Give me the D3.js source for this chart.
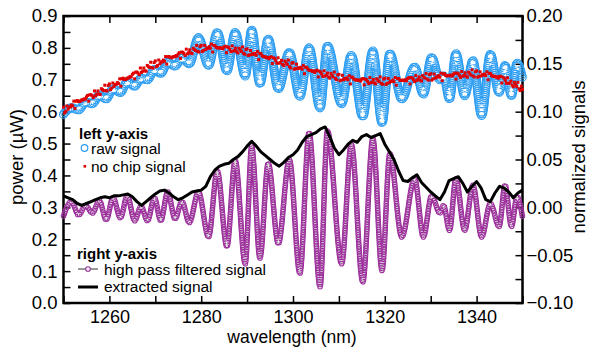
<!DOCTYPE html>
<html>
<head>
<meta charset="utf-8">
<script src="https://cdn.jsdelivr.net/npm/d3@7"></script>
<style>
  body { margin: 0; background: #fff; }
  svg text { font-family: "Liberation Sans", Arial, Helvetica, sans-serif; fill: #000; }
</style>
</head>
<body>
<svg id="chart" width="589" height="347"></svg>
<script>
// no chip signal (left axis, uW), sampled every 0.25 nm from 1250 nm
const noChip = [
  0.614,0.596,0.601,0.618,0.608,0.614,0.615,0.621,
  0.618,0.633,0.610,0.633,0.635,0.632,0.632,0.634,
  0.637,0.637,0.640,0.639,0.646,0.651,0.633,0.653,
  0.653,0.650,0.644,0.665,0.650,0.655,0.665,0.655,
  0.654,0.672,0.669,0.666,0.683,0.666,0.665,0.682,
  0.687,0.669,0.674,0.690,0.679,0.685,0.686,0.691,
  0.688,0.703,0.680,0.703,0.705,0.701,0.701,0.703,
  0.706,0.706,0.710,0.709,0.717,0.721,0.703,0.724,
  0.724,0.721,0.716,0.737,0.723,0.727,0.737,0.728,
  0.727,0.745,0.741,0.739,0.755,0.738,0.737,0.754,
  0.759,0.741,0.745,0.762,0.750,0.756,0.756,0.762,
  0.758,0.773,0.749,0.772,0.773,0.770,0.769,0.771,
  0.773,0.772,0.776,0.774,0.781,0.785,0.767,0.787,
  0.786,0.782,0.776,0.796,0.781,0.785,0.794,0.784,
  0.782,0.799,0.795,0.792,0.808,0.789,0.787,0.804,
  0.808,0.789,0.792,0.808,0.795,0.800,0.799,0.804,
  0.799,0.812,0.787,0.808,0.807,0.802,0.800,0.800,
  0.801,0.799,0.800,0.797,0.803,0.805,0.785,0.803,
  0.801,0.795,0.788,0.806,0.790,0.792,0.799,0.788,
  0.784,0.799,0.794,0.789,0.803,0.783,0.780,0.795,
  0.797,0.776,0.778,0.792,0.779,0.782,0.780,0.783,
  0.777,0.789,0.763,0.783,0.782,0.776,0.773,0.772,
  0.772,0.769,0.770,0.766,0.771,0.772,0.751,0.769,
  0.766,0.760,0.752,0.769,0.752,0.754,0.761,0.748,
  0.744,0.759,0.753,0.748,0.762,0.741,0.737,0.752,
  0.754,0.733,0.735,0.749,0.735,0.738,0.736,0.739,
  0.733,0.745,0.719,0.739,0.739,0.733,0.730,0.729,
  0.729,0.726,0.727,0.723,0.728,0.730,0.709,0.727,
  0.724,0.718,0.710,0.728,0.712,0.714,0.721,0.709,
  0.705,0.720,0.714,0.709,0.724,0.704,0.700,0.715,
  0.717,0.697,0.699,0.714,0.700,0.704,0.702,0.706,
  0.700,0.713,0.687,0.708,0.708,0.702,0.700,0.699,
  0.700,0.698,0.699,0.696,0.702,0.704,0.684,0.702,
  0.700,0.695,0.688,0.707,0.691,0.693,0.701,0.690,
  0.687,0.703,0.698,0.694,0.709,0.689,0.686,0.702,
  0.705,0.685,0.689,0.704,0.691,0.695,0.695,0.699,
  0.694,0.707,0.683,0.704,0.704,0.699,0.698,0.698,
  0.699,0.697,0.700,0.697,0.704,0.707,0.687,0.707,
  0.705,0.700,0.694,0.713,0.698,0.701,0.709,0.699,
  0.696,0.713,0.708,0.705,0.720,0.702,0.699,0.716,
  0.719,0.699,0.703,0.718,0.705,0.709,0.709,0.713,
  0.708,0.721,0.697,0.718,0.719,0.714,0.712,0.713,
  0.714,0.712,0.715,0.712,0.718,0.721,0.702,0.721,
  0.719,0.714,0.707,0.726,0.711,0.714,0.722,0.711,
  0.708,0.724,0.719,0.715,0.731,0.712,0.709,0.725,
  0.728,0.708,0.711,0.725,0.712,0.716,0.715,0.718,
  0.713,0.725,0.700,0.720,0.720,0.714,0.711,0.711,
  0.711,0.708,0.709,0.705,0.710,0.711,0.690,0.708,
  0.705,0.698,0.689,0.706,0.689,0.690,0.696,0.683,
  0.678,0.692,0.685,0.679,0.692,0.671,0.666,0.680,
  0.670
];

// raw signal (left axis, uW): turning points
const rawWl = [
  1250.0,1251.7,1253.3,1254.8,1256.3,1257.8,1259.3,1260.8,1262.4,1263.9,
  1265.5,1266.9,1268.3,1269.8,1271.2,1272.7,1274.3,1275.8,1277.4,1279.4,
  1281.6,1283.5,1285.6,1287.4,1289.6,1291.0,1292.8,1294.6,1296.8,1299.2,
  1301.5,1303.5,1305.9,1307.5,1310.6,1312.7,1315.2,1317.4,1319.4,1321.1,
  1323.7,1326.5,1328.4,1330.2,1332.0,1332.8,1334.1,1335.5,1337.4,1339.2,
  1341.1,1343.0,1344.9,1346.2,1347.6,1348.8,1350.0
];
const rawVal = [
  0.592,0.612,0.606,0.630,0.625,0.652,0.640,0.672,0.660,0.694,
  0.680,0.705,0.700,0.732,0.720,0.755,0.743,0.768,0.750,0.832,
  0.745,0.848,0.728,0.848,0.712,0.856,0.688,0.828,0.672,0.786,
  0.648,0.800,0.612,0.806,0.625,0.776,0.585,0.790,0.565,0.782,
  0.640,0.740,0.655,0.770,0.700,0.712,0.640,0.782,0.650,0.760,
  0.588,0.780,0.660,0.745,0.650,0.752,0.705
];

// high pass filtered signal (right axis): turning points
const hpWl = [
  1250.0,1251.7,1253.3,1254.8,1256.3,1257.8,1259.3,1260.8,1262.4,1263.9,
  1265.5,1266.9,1268.3,1269.8,1271.2,1272.7,1274.3,1275.8,1277.4,1279.4,
  1281.6,1283.5,1285.6,1287.4,1289.6,1291.0,1292.8,1294.6,1296.8,1299.2,
  1301.5,1303.5,1305.9,1307.5,1310.6,1312.7,1315.2,1317.4,1319.4,1321.1,
  1323.7,1326.5,1328.4,1330.2,1332.0,1332.8,1334.1,1335.5,1337.4,1339.2,
  1341.1,1343.0,1344.9,1346.2,1347.6,1348.8,1350.0
];
const hpVal = [
  -0.009,0.006,-0.008,0.002,-0.006,0.007,-0.013,0.010,-0.011,0.012,
  -0.014,0.001,-0.014,0.010,-0.014,0.016,-0.012,0.006,-0.016,0.016,
  -0.031,0.038,-0.041,0.049,-0.059,0.064,-0.053,0.046,-0.038,0.050,
  -0.069,0.078,-0.083,0.080,-0.059,0.066,-0.078,0.072,-0.066,0.056,
  -0.031,0.030,-0.031,0.012,-0.006,0.002,-0.024,0.030,-0.024,0.023,
  -0.031,0.004,-0.020,0.023,-0.020,0.011,-0.010
];

// extracted signal (right axis), every 1 nm from 1250 nm
const extracted = [
  0.012,0.010,0.008,0.004,0.002,0.004,0.006,0.008,0.010,0.011,
  0.010,0.012,0.012,0.013,0.014,0.011,0.006,0.002,0.006,0.010,
  0.014,0.017,0.018,0.015,0.011,0.008,0.010,0.013,0.016,0.017,
  0.018,0.022,0.032,0.039,0.043,0.045,0.046,0.050,0.053,0.058,
  0.064,0.069,0.064,0.058,0.054,0.050,0.046,0.043,0.047,0.052,
  0.055,0.060,0.068,0.074,0.076,0.078,0.082,0.084,0.074,0.062,
  0.055,0.060,0.066,0.070,0.068,0.074,0.076,0.073,0.075,0.077,
  0.066,0.058,0.050,0.038,0.028,0.027,0.031,0.034,0.026,0.021,
  0.016,0.012,0.008,0.016,0.028,0.030,0.032,0.025,0.016,0.022,
  0.027,0.020,0.008,0.006,0.015,0.022,0.020,0.016,0.010,0.015,
  0.018
];

const xMajor = [1260, 1280, 1300, 1320, 1340];
const xMinor = [1250, 1270, 1290, 1310, 1330, 1350];
const leftMajor = [0, 0.1, 0.2, 0.3, 0.4, 0.5, 0.6, 0.7, 0.8, 0.9];
const leftMinor = [0.05, 0.15, 0.25, 0.35, 0.45, 0.55, 0.65, 0.75, 0.85];
const rightMajor = [-0.1, -0.05, 0, 0.05, 0.1, 0.15, 0.2];
const rightMinor = [-0.075, -0.025, 0.025, 0.075, 0.125, 0.175];

const blue = "#2e9ef2", red = "#e00000", purple = "#9c2f9c";

const svg = d3.select("#chart");
const defs = svg.append("defs");
const x = d3.scaleLinear().domain([1250, 1350]).range([63.5, 522.5]);
const yL = d3.scaleLinear().domain([0, 0.9]).range([303, 16]);
const yR = d3.scaleLinear().domain([-0.1, 0.2]).range([303, 16]);

// axes
const axes = svg.append("g");
function styleAxis(g) {
  g.select(".domain").remove();
  g.selectAll(".tick line").attr("stroke", "#000").attr("stroke-width", 1.5);
  g.selectAll(".tick text").attr("font-size", 18.5);
}
axes.append("g").attr("transform", "translate(0,303)")
  .call(d3.axisBottom(x).tickValues(xMajor.concat(xMinor)).tickSize(-7).tickPadding(7.5)
    .tickFormat(d => xMajor.includes(d) ? d : ""))
  .call(styleAxis)
  .call(g => g.selectAll(".tick text").attr("font-size", 18));
axes.append("g").attr("transform", "translate(0,16)")
  .call(d3.axisTop(x).tickValues(xMajor.concat(xMinor)).tickSize(-7).tickFormat(""))
  .call(styleAxis);
axes.append("g").attr("transform", "translate(63.5,0)")
  .call(d3.axisLeft(yL).tickValues(leftMajor.concat(leftMinor)).tickSize(-7).tickPadding(6)
    .tickFormat(d => leftMajor.includes(d) ? d3.format(".1f")(d) : ""))
  .call(styleAxis);
axes.append("g").attr("transform", "translate(522.5,0)")
  .call(d3.axisRight(yR).tickValues(rightMajor.concat(rightMinor)).tickSize(-7).tickPadding(4)
    .tickFormat(d => rightMajor.includes(d) ? d3.format(".2f")(d) : ""))
  .call(styleAxis);
axes.append("rect")
  .attr("x", 63.5).attr("y", 16).attr("width", 459).attr("height", 287)
  .attr("fill", "none").attr("stroke", "#000").attr("stroke-width", 2.5);

// axis titles
svg.append("text").attr("transform", "translate(23,157) rotate(-90)")
  .attr("text-anchor", "middle").attr("font-size", 18.5).text("power (µW)");
svg.append("text").attr("transform", "translate(585,157) rotate(-90)")
  .attr("text-anchor", "middle").attr("font-size", 18.5).text("normalized signals");
svg.append("text").attr("x", 292).attr("y", 343)
  .attr("text-anchor", "middle").attr("font-size", 17.5).text("wavelength (nm)");

// open circle markers spread densely along a curve: each layer is a row of
// round dots with its own cores masked out, layers shifted along the path
let maskCount = 0;
function ringLayers(g, d, color, outer, inner, period, layers) {
  for (let k = 0; k < layers; k++) {
    const id = "ring" + (maskCount++);
    const off = -k * period / layers;
    const m = defs.append("mask").attr("id", id).attr("maskUnits", "userSpaceOnUse")
      .attr("x", 0).attr("y", 0).attr("width", 589).attr("height", 347);
    m.append("rect").attr("width", 589).attr("height", 347).attr("fill", "#fff");
    m.append("path").attr("d", d).attr("fill", "none").attr("stroke", "#000")
      .attr("stroke-width", inner).attr("stroke-linecap", "round")
      .attr("stroke-dasharray", `0 ${period}`).attr("stroke-dashoffset", off);
    g.append("path").attr("d", d).attr("fill", "none").attr("stroke", color)
      .attr("stroke-width", outer).attr("stroke-linecap", "round")
      .attr("stroke-dasharray", `0 ${period}`).attr("stroke-dashoffset", off)
      .attr("mask", `url(#${id})`);
  }
}

const plot = svg.append("g");

// raw signal
const rawLine = d3.line().x((d, i) => x(rawWl[i])).y(d => yL(d)).curve(d3.curveMonotoneX);
ringLayers(plot.append("g"), rawLine(rawVal), blue, 9.2, 7, 8.2, 4);

// no chip signal
plot.append("g").attr("fill", red)
  .selectAll("rect").data(noChip).join("rect")
  .attr("x", (d, i) => x(1250 + i * 0.25) - 1.5)
  .attr("y", d => yL(d) - 1.5)
  .attr("width", 3).attr("height", 3);

// high pass filtered signal
const hpLine = d3.line().x((d, i) => x(hpWl[i])).y(d => yR(d)).curve(d3.curveMonotoneX);
plot.append("path").attr("d", hpLine(hpVal)).attr("fill", "none")
  .attr("stroke", "#333").attr("stroke-width", 0.5).attr("opacity", 0.6);
ringLayers(plot.append("g"), hpLine(hpVal), purple, 5.6, 3.6, 4.8, 2);

// extracted signal
const exLine = d3.line().x((d, i) => x(1250 + i)).y(d => yR(d));
plot.append("path").attr("d", exLine(extracted)).attr("fill", "none")
  .attr("stroke", "#000").attr("stroke-width", 3).attr("stroke-linejoin", "round");

// legends
const leg = svg.append("g").attr("font-size", 15.5);
leg.append("text").attr("x", 79).attr("y", 139).attr("font-size", 15).attr("font-weight", "bold").text("left y-axis");
leg.append("circle").attr("cx", 84.5).attr("cy", 148).attr("r", 3.3)
  .attr("fill", "none").attr("stroke", blue).attr("stroke-width", 1.2);
leg.append("text").attr("x", 91).attr("y", 154).text("raw signal");
leg.append("rect").attr("x", 83.5).attr("y", 165).attr("width", 2.6).attr("height", 2.6).attr("fill", red);
leg.append("text").attr("x", 91).attr("y", 172).text("no chip signal");

leg.append("text").attr("x", 77).attr("y", 259).attr("font-size", 15).attr("font-weight", "bold").text("right y-axis");
leg.append("line").attr("x1", 78).attr("x2", 98).attr("y1", 269).attr("y2", 269)
  .attr("stroke", "#333").attr("stroke-width", 1);
leg.append("circle").attr("cx", 88).attr("cy", 269).attr("r", 2.3)
  .attr("fill", "#fff").attr("stroke", purple).attr("stroke-width", 1.1);
leg.append("text").attr("x", 104).attr("y", 275).text("high pass filtered signal");
leg.append("line").attr("x1", 78).attr("x2", 98).attr("y1", 287).attr("y2", 287)
  .attr("stroke", "#000").attr("stroke-width", 3);
leg.append("text").attr("x", 104).attr("y", 292).text("extracted signal");
</script>
</body>
</html>
